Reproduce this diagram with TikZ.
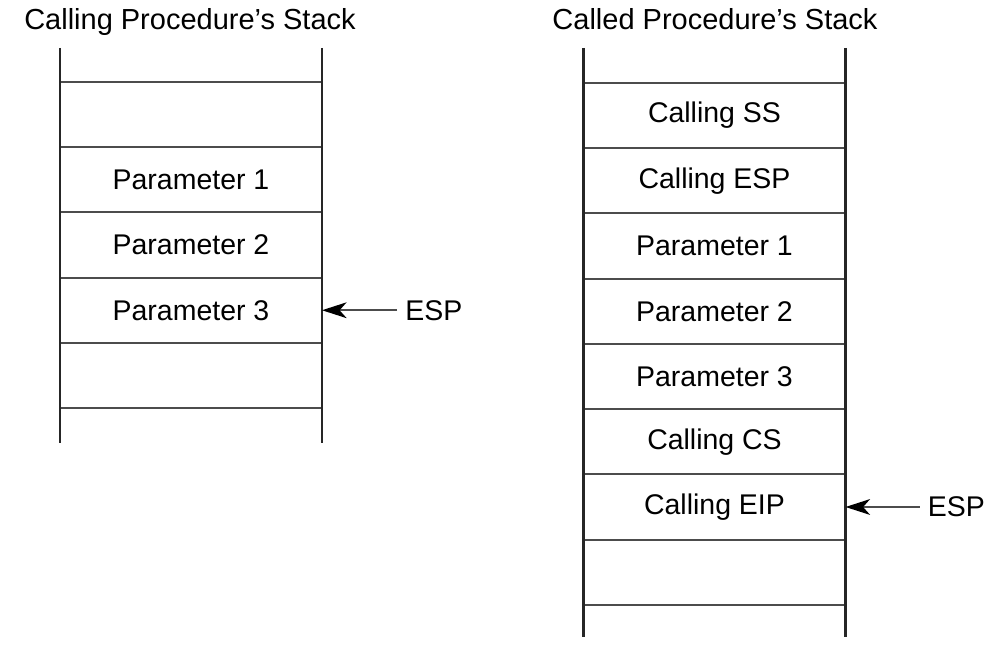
\documentclass[tikz,border=0pt]{standalone}
\usepackage{fontspec}
\setmainfont{Liberation Sans}
\usetikzlibrary{positioning, arrows.meta}

\begin{document}
\begin{tikzpicture}[
        node distance=0pt,
        font=\fontsize{16.2}{19}\selectfont,
        % Cell and line styles
        cell/.style={rectangle, minimum width=5.24cm, minimum height=1.305cm, inner sep=0pt, outer sep=0pt, text centered},
        title/.style={inner sep=0pt, anchor=base, font=\fontsize{16.5}{19}\selectfont},
        esp/.style={inner ysep=0pt, inner xsep=0.16cm},
        wall/.style={line width=1.5pt, black!85},
        rowline/.style={line width=1.1pt, black!70},
        arrow/.style={-{Stealth[length=14pt,width=9pt,inset=4pt,black]}, line width=0.9pt, black!70}
    ]
    \useasboundingbox (0,0) rectangle (20.02,-13.14);

    % --- 1. TITLES ---
    \node[title] (tcalling) at (3.80,-0.60) {Calling Procedure's Stack};
    \node[title] (tcalled) at (14.30,-0.60) {Called Procedure's Stack};

    % --- 2. CALLING STACK ---
    \node[cell] (cl0) at (3.82,-2.29) {};
    \node[cell, below=of cl0] (cl1) {Parameter 1};
    \node[cell, below=of cl1] (cl2) {Parameter 2};
    \node[cell, below=of cl2] (cl3) {Parameter 3};
    \node[cell, below=of cl3] (cl4) {};

    \foreach \c in {cl0,cl1,cl2,cl3,cl4}
        \draw[rowline] (\c.north west) -- (\c.north east);
    \draw[rowline] (cl4.south west) -- (cl4.south east);
    \draw[wall] ([yshift=0.68cm]cl0.north west) -- ([yshift=-0.70cm]cl4.south west);
    \draw[wall] ([yshift=0.68cm]cl0.north east) -- ([yshift=-0.70cm]cl4.south east);

    \node[esp, right=1.5cm of cl3] (esp1) {ESP};
    \draw[arrow] (esp1.west) -- (cl3.east);

    % --- 3. CALLED STACK ---
    \node[cell] (cd0) at (14.29,-2.31) {Calling SS};
    \node[cell, below=of cd0] (cd1) {Calling ESP};
    \node[cell, below=of cd1] (cd2) {Parameter 1};
    \node[cell, below=of cd2] (cd3) {Parameter 2};
    \node[cell, below=of cd3] (cd4) {Parameter 3};
    \node[cell, below=of cd4] (cd5) {Calling CS};
    \node[cell, below=of cd5] (cd6) {Calling EIP};
    \node[cell, below=of cd6] (cd7) {};

    \foreach \c in {cd0,cd1,cd2,cd3,cd4,cd5,cd6,cd7}
        \draw[rowline] (\c.north west) -- (\c.north east);
    \draw[rowline] (cd7.south west) -- (cd7.south east);
    \draw[wall] ([yshift=0.70cm]cd0.north west) -- ([yshift=-0.64cm]cd7.south west);
    \draw[wall] ([yshift=0.70cm]cd0.north east) -- ([yshift=-0.64cm]cd7.south east);

    \node[esp, right=1.48cm of cd6] (esp2) {ESP};
    \draw[arrow] (esp2.west) -- (cd6.east);

\end{tikzpicture}
\end{document}
